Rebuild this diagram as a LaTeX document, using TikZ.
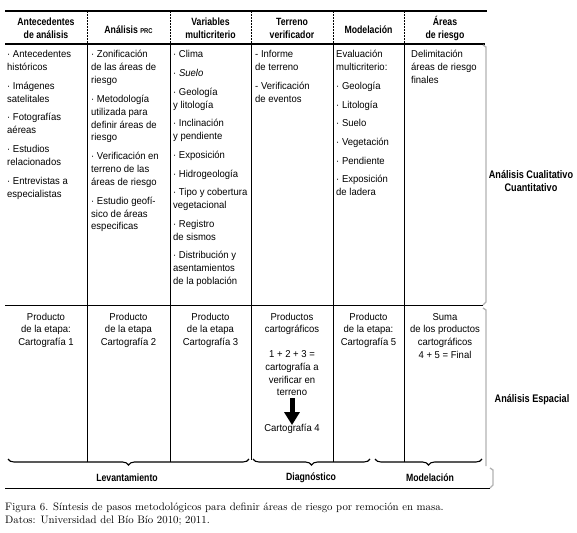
\documentclass[tikz,border=0pt]{standalone}
\usepackage{fontspec}
\setsansfont{Liberation Sans}[FakeStretch=0.95, BoldFeatures={FakeStretch=0.83}]
\usetikzlibrary{decorations.pathreplacing,arrows.meta}
\begin{document}
\begin{tikzpicture}[x=1pt,y=-1pt]
\tikzset{
 hdr/.style={font=\sffamily\bfseries\fontsize{10.5}{13}\selectfont, align=center, inner sep=0},
 cell/.style={font=\sffamily\fontsize{10}{12.9}\selectfont, align=left, anchor=north west, inner sep=0},
 prod/.style={font=\sffamily\fontsize{10}{12.7}\selectfont, align=center, anchor=north, inner sep=0},
 side/.style={font=\sffamily\bfseries\fontsize{11}{12.5}\selectfont, align=center, inner sep=0},
 foot/.style={font=\sffamily\bfseries\fontsize{10.5}{12}\selectfont, inner sep=0},
 capt/.style={font=\rmfamily\fontsize{10.8}{13}\selectfont, align=left, anchor=north west, inner sep=0},
 hrule/.style={line width=1.1pt},
 vline/.style={line width=0.9pt},
 dline/.style={line width=0.9pt, dash pattern=on 1.6pt off 1.4pt},
 gbr/.style={line width=1.3pt, draw=black!30},
 brc/.style={line width=1.1pt, decorate, decoration={brace,mirror,amplitude=6pt}},
}
\useasboundingbox (0,0) rectangle (577,532);
% horizontal rules
\draw[hrule] (5,11) -- (487,11);
\draw[hrule] (5,44) -- (485,44);
\draw[vline] (5,305) -- (483,305);
\draw[vline] (5,488) -- (490,488);
% vertical lines
\foreach \x in {87,170,251,333,404} {
  \draw[dline] (\x,11) -- (\x,44);
}
\foreach \x in {87,170,333,404} {
  \draw[vline] (\x,44) -- (\x,462);
}
\draw[vline] (251,44) -- (251,460);
% gray brackets
\draw[gbr] (483,45) -- (486,47) -- (486,302) -- (483,305);
\draw[gbr] (483,308) -- (486,310) -- (486,466);
\draw[gbr] (490,468) -- (493,470) -- (493,485) -- (490,488);
% braces
\draw[brc] (8,459) -- (249,459);
\draw[brc] (253,459) -- (370,459);
\draw[brc] (375,459) -- (482,459);
% headers
\node[hdr] (h1) at (46,28) {Antecedentes\\de análisis};
\node[hdr] (h2) at (128.5,29.5) {Análisis {\fontsize{7}{8}\selectfont PRC}};
\node[hdr] (h3) at (210.5,28) {Variables\\multicriterio};
\node[hdr] (h4) at (292,28) {Terreno\\verificador};
\node[hdr] (h5) at (368.5,29.5) {Modelación};
\node[hdr] (h6) at (445,28) {Áreas\\de riesgo};
% body
\node[cell] (c1) at (7,48.5) {\rule{0pt}{9pt}· Antecedentes\\históricos\\[5.8pt]· Imágenes\\satelitales\\[5.8pt]· Fotografías\\aéreas\\[5.8pt]· Estudios\\relacionados\\[5.8pt]· Entrevistas a\\especialistas};
\node[cell] (c2) at (91,48.5) {\rule{0pt}{9pt}· Zonificación\\de las áreas de\\riesgo\\[5.8pt]· Metodología\\utilizada para\\definir áreas de\\riesgo\\[5.8pt]· Verificación en\\terreno de las\\áreas de riesgo\\[5.8pt]· Estudio geofí-\\sico de áreas\\especificas};
\node[cell] (c3) at (173,48.5) {\rule{0pt}{9pt}· Clima\\[5.8pt]· \textit{Suelo}\\[5.8pt]· Geología\\y litología\\[5.8pt]· Inclinación\\y pendiente\\[5.8pt]· Exposición\\[5.8pt]· Hidrogeología\\[5.8pt]· Tipo y cobertura\\vegetacional\\[5.8pt]· Registro\\de sismos\\[5.8pt]· Distribución y\\asentamientos\\de la población};
\node[cell] (c4) at (255,48.5) {\rule{0pt}{9pt}- Informe\\de terreno\\[5.8pt]- Verificación\\de eventos};
\node[cell] (c5) at (336,48.5) {\rule{0pt}{9pt}Evaluación\\multicriterio:\\[5.8pt]· Geología\\[5.8pt]· Litología\\[5.8pt]· Suelo\\[5.8pt]· Vegetación\\[5.8pt]· Pendiente\\[5.8pt]· Exposición\\de ladera};
\node[cell] (c6) at (411,48.5) {\rule{0pt}{9pt}Delimitación\\áreas de riesgo\\finales};
% products
\node[prod] (p1) at (46,311) {\rule{0pt}{9pt}Producto\\de la etapa:\\Cartografía 1};
\node[prod] (p2) at (128.5,311) {\rule{0pt}{9pt}Producto\\de la etapa\\Cartografía 2};
\node[prod] (p3) at (210.5,311) {\rule{0pt}{9pt}Producto\\de la etapa\\Cartografía 3};
\node[prod] (p4) at (292,311) {\rule{0pt}{9pt}Productos\\cartográficos\\[12pt]1 + 2 + 3 =\\cartografía a\\verificar en\\terreno};
\node[prod, anchor=center] (p4b) at (292,429) {Cartografía 4};
\node[prod] (p5) at (368.5,311) {\rule{0pt}{9pt}Producto\\de la etapa:\\Cartografía 5};
\node[prod] (p6) at (445,311) {\rule{0pt}{9pt}Suma\\de los productos\\cartográficos\\4 + 5 = Final};
\draw[line width=5pt, -{Triangle[width=15pt,length=13pt]}] ([yshift=-2pt]p4.south) -- ([yshift=-1pt]p4b.north);
% side labels
\node[side] (s1) at (531,181) {Análisis Cualitativo\\Cuantitativo};
\node[side] (s2) at (532,400) {Análisis Espacial};
% footer labels
\node[foot] (l1) at (127,478) {Levantamiento};
\node[foot] (l2) at (311,478) {Diagnóstico};
\node[foot] (l3) at (430,478) {Modelación};
% caption
\node[capt] (cap) at (5,503) {Figura 6. Síntesis de pasos metodológicos para definir áreas de riesgo por remoción en masa.\\Datos: Universidad del Bío Bío 2010; 2011.};
\end{tikzpicture}
\end{document}
